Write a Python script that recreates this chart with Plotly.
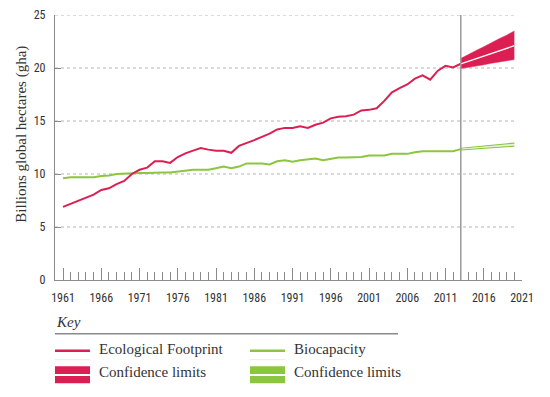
import plotly.graph_objects as go

# ---------------- data ----------------
years = list(range(1961, 2014))
footprint = [6.9, 7.2, 7.5, 7.75, 8.05, 8.5, 8.65, 9.05, 9.35, 10.0,
             10.4, 10.6, 11.2, 11.2, 11.05, 11.6, 11.95, 12.2, 12.45, 12.3,
             12.2, 12.2, 12.0, 12.65, 12.9, 13.2, 13.5, 13.8, 14.2, 14.35,
             14.35, 14.5, 14.35, 14.65, 14.85, 15.25, 15.4, 15.45, 15.6, 16.0,
             16.05, 16.2, 16.9, 17.7, 18.1, 18.45, 19.0, 19.3, 18.9, 19.75,
             20.2, 20.05, 20.4]
biocapacity = [9.6, 9.7, 9.7, 9.7, 9.7, 9.8, 9.85, 10.0, 10.05, 10.1,
               10.1, 10.1, 10.15, 10.15, 10.15, 10.25, 10.3, 10.4, 10.4, 10.4,
               10.55, 10.7, 10.55, 10.7, 11.0, 11.0, 11.0, 10.9, 11.2, 11.3,
               11.15, 11.3, 11.35, 11.45, 11.3, 11.45, 11.55, 11.55, 11.55, 11.6,
               11.75, 11.75, 11.75, 11.9, 11.9, 11.9, 12.05, 12.15, 12.15, 12.15,
               12.15, 12.15, 12.35]

proj_years = list(range(2013, 2021))
fp_center = [20.4, 20.65, 20.9, 21.15, 21.4, 21.6, 21.85, 22.1]
fp_upper = [20.9, 21.3, 21.65, 22.0, 22.4, 22.75, 23.1, 23.5]
fp_lower = [19.95, 20.05, 20.2, 20.3, 20.45, 20.55, 20.7, 20.8]
bc_center = [12.35, 12.41, 12.47, 12.53, 12.59, 12.65, 12.71, 12.77]
bc_upper = [12.42, 12.5, 12.57, 12.64, 12.71, 12.78, 12.85, 12.92]
bc_lower = [12.28, 12.33, 12.38, 12.42, 12.47, 12.52, 12.57, 12.62]

x_ticks = list(range(1961, 2022, 5))
y_ticks = [0, 5, 10, 15, 20, 25]
projection_start = 2013

legend_items = ["Ecological Footprint", "Confidence limits", "Biocapacity", "Confidence limits"]

# ---------------- styles ----------------
RED = "#dc1f52"
GREEN = "#8cc63f"
AX = "#8a8a8a"
TXT = "#333333"
SANS = "Liberation Sans Narrow, Roboto Condensed, Arial Narrow, sans-serif"
SERIF = "Liberation Serif, DejaVu Serif, serif"

# the page body adds an 8px offset; work in window pixels and shift
OFF = 8
W, H = 550 - OFF, 397 - OFF
PL, PR, PT, PB = 55, 522, 15.3, 280.3   # plot area in window pixels
L, T = PL - OFF, PT - OFF
R = W - (PR - OFF)
B = H - (PB - OFF)
PW, PH = PR - PL, PB - PT

def px(xp):
    return (xp - PL) / PW

def py(yp):
    return (PB - yp) / PH

fig = go.Figure()

# footprint band
fig.add_trace(go.Scatter(x=proj_years, y=fp_upper, mode="lines", line=dict(color=RED, width=0.5),
                         hoverinfo="skip", showlegend=False))
fig.add_trace(go.Scatter(x=proj_years, y=fp_lower, mode="lines", line=dict(color=RED, width=0.5),
                         fill="tonexty", fillcolor=RED, hoverinfo="skip", showlegend=False))
fig.add_trace(go.Scatter(x=proj_years, y=fp_center, mode="lines", line=dict(color="white", width=1.3),
                         showlegend=False))
# biocapacity band
fig.add_trace(go.Scatter(x=proj_years, y=bc_upper, mode="lines", line=dict(color=GREEN, width=1.2),
                         hoverinfo="skip", showlegend=False))
fig.add_trace(go.Scatter(x=proj_years, y=bc_lower, mode="lines", line=dict(color=GREEN, width=1.2),
                         fill="tonexty", fillcolor="#d9ecbf", hoverinfo="skip", showlegend=False))
fig.add_trace(go.Scatter(x=proj_years, y=bc_center, mode="lines", line=dict(color="#eef7e2", width=0.8),
                         showlegend=False))

# historical lines
fig.add_trace(go.Scatter(x=years, y=biocapacity, mode="lines", line=dict(color=GREEN, width=2),
                         name="Biocapacity", showlegend=False))
fig.add_trace(go.Scatter(x=years, y=footprint, mode="lines", line=dict(color=RED, width=2),
                         name="Ecological Footprint", showlegend=False))

shapes = []
# dotted gridlines
for v in y_ticks[1:]:
    shapes.append(dict(type="line", xref="x", yref="y", x0=1959.95, x1=2020.1, y0=v, y1=v,
                       line=dict(color="#b5b5b5", width=1, dash="dot"), layer="below"))
# projection marker
shapes.append(dict(type="line", xref="x", yref="y", x0=projection_start, x1=projection_start,
                   y0=0, y1=25, line=dict(color="#9a9a9a", width=1.5)))

# legend drawing (window pixel positions)
shapes.append(dict(type="line", xref="paper", yref="paper", x0=px(55), x1=px(398), y0=py(334), y1=py(334),
                   line=dict(color="#8a8a8a", width=1.5)))
for x0, col in [(55, RED), (250, GREEN)]:
    shapes.append(dict(type="line", xref="paper", yref="paper", x0=px(x0), x1=px(x0 + 35),
                       y0=py(351), y1=py(351), line=dict(color=col, width=2.4)))
    shapes.append(dict(type="line", xref="paper", yref="paper", x0=px(x0), x1=px(x0 + 35),
                       y0=py(360), y1=py(360), line=dict(color="#e3e3e3", width=0.8)))
    shapes.append(dict(type="rect", xref="paper", yref="paper", x0=px(x0), x1=px(x0 + 35),
                       y0=py(383.5), y1=py(366.5), fillcolor=col, line=dict(width=0)))
    shapes.append(dict(type="line", xref="paper", yref="paper", x0=px(x0), x1=px(x0 + 35),
                       y0=py(375.3), y1=py(375.3), line=dict(color="white", width=2)))

annotations = [
    dict(text="<i>Key</i>", xref="paper", yref="paper", x=px(54), y=py(322), xanchor="left",
         yanchor="middle", showarrow=False, font=dict(family=SERIF, size=15, color=TXT)),
    dict(text="Billions global hectares (gha)", xref="paper", yref="paper", x=px(22), y=py(135),
         xanchor="center", yanchor="middle", textangle=-90, showarrow=False,
         font=dict(family=SERIF, size=15, color=TXT)),
]
for (xt, yt), label in zip([(97, 349), (97, 372), (292, 349), (292, 372)], legend_items):
    annotations.append(dict(text=label, xref="paper", yref="paper", x=px(xt), y=py(yt), xanchor="left",
                            yanchor="middle", showarrow=False, font=dict(family=SERIF, size=15, color=TXT)))

fig.update_layout(
    width=W, height=H, margin=dict(l=L, r=R, t=T, b=B, autoexpand=False),
    paper_bgcolor="white", plot_bgcolor="white",
    shapes=shapes, annotations=annotations,
    xaxis=dict(range=[1959.95, 2021.0], tickmode="array", tickvals=x_ticks, ticktext=[str(v) for v in x_ticks],
               ticks="inside", ticklen=12, tickcolor=AX, tickwidth=1,
               minor=dict(dtick=1, tick0=1961, ticks="inside", ticklen=8, tickcolor=AX, tickwidth=1, showgrid=False),
               showline=True, linecolor=AX, linewidth=1.2, showgrid=False, zeroline=False,
               tickfont=dict(family=SANS, size=12, color=TXT), ticklabelstandoff=6),
    yaxis=dict(range=[0, 25], tickvals=y_ticks, ticks="inside", ticklen=6, tickcolor=AX, tickwidth=1,
               showline=True, linecolor=AX, linewidth=1.2, showgrid=False, zeroline=False,
               tickfont=dict(family=SANS, size=12, color=TXT), ticklabelstandoff=6),
)

fig.write_html("out.html")
